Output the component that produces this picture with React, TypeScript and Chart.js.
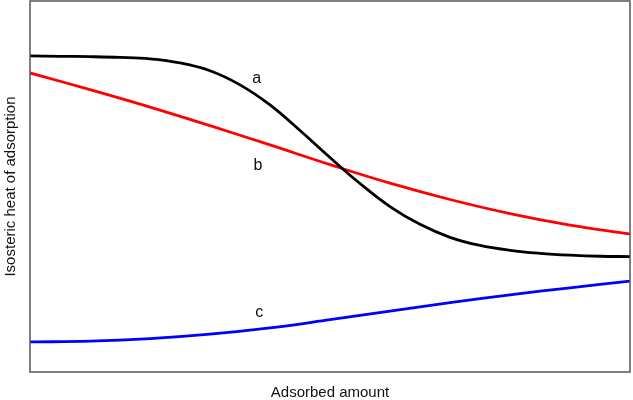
import React, { useEffect, useRef } from "react";
import { Chart, registerables } from "chart.js";

Chart.register(...registerables);

// Adsorbed amount (arbitrary units, 0..100)
const xA = [0, 5, 10, 15, 20, 25, 30, 35, 40, 45, 50, 55, 60, 65, 70, 75, 80, 85, 90, 95, 100];
const yA = [85.2, 85.1, 85.0, 84.8, 84.4, 83.3, 81.2, 77.4, 72.0, 65.1, 57.8, 50.8, 44.6, 39.8, 36.3, 34.1, 32.8, 32.0, 31.5, 31.2, 31.1];

const xB = [0, 10, 20, 30, 40, 50, 60, 70, 80, 90, 100];
const yB = [80.6, 76.1, 71.4, 66.4, 61.2, 55.9, 50.9, 46.5, 42.7, 39.6, 37.2];

const xC = [0, 10, 20, 30, 40, 50, 60, 70, 80, 90, 100];
const yC = [8.1, 8.3, 9.0, 10.2, 11.9, 14.1, 16.4, 18.7, 20.8, 22.7, 24.5];

const curveLabels = ["a", "b", "c"];
const labelX = [37.8, 38.0, 38.2];
const labelY = [79.0, 55.6, 16.1];

const xTitle = "Adsorbed amount";
const yTitle = "Isosteric heat of adsorption";

const FONT = "'Liberation Sans', Arial, sans-serif";

const toPts = (xs: number[], ys: number[]) => xs.map((x, i) => ({ x, y: ys[i] }));

export default function App() {
  const ref = useRef<HTMLCanvasElement | null>(null);
  useEffect(() => {
    if (!ref.current) return;
    const boxPlugin = {
      id: "boxAndLabels",
      afterDraw(chart: any) {
        const { ctx, chartArea } = chart;
        ctx.save();
        ctx.strokeStyle = "#555555";
        ctx.lineWidth = 1.5;
        ctx.strokeRect(chartArea.left, chartArea.top, chartArea.right - chartArea.left, chartArea.bottom - chartArea.top);
        ctx.fillStyle = "#111111";
        ctx.font = `16px ${FONT}`;
        ctx.textAlign = "center";
        ctx.textBaseline = "middle";
        const xs = chart.scales.x;
        const ys = chart.scales.y;
        curveLabels.forEach((t, i) => {
          ctx.fillText(t, xs.getPixelForValue(labelX[i]), ys.getPixelForValue(labelY[i]));
        });
        ctx.restore();
      },
    };
    const common = {
      pointRadius: 0,
      borderWidth: 2.8,
      fill: false,
      tension: 0.4,
    };
    const chart = new Chart(ref.current, {
      type: "line",
      data: {
        datasets: [
          { ...common, label: "a", data: toPts(xA, yA), borderColor: "#000000" },
          { ...common, label: "b", data: toPts(xB, yB), borderColor: "#ff0000" },
          { ...common, label: "c", data: toPts(xC, yC), borderColor: "#0000ff" },
        ],
      },
      options: {
        animation: false,
        responsive: false,
        layout: { padding: { top: 1, right: 3, left: 0, bottom: 0 } },
        plugins: { legend: { display: false }, tooltip: { enabled: false } },
        scales: {
          x: {
            type: "linear",
            min: 0,
            max: 100,
            ticks: { display: false },
            grid: { display: false },
            border: { display: false },
            title: {
              display: true,
              text: xTitle,
              color: "#111111",
              font: { family: FONT, size: 15, lineHeight: 1 },
              padding: { top: 0, bottom: 0 },
            },
            afterFit(scale: any) {
              scale.height = 28;
            },
          },
          y: {
            type: "linear",
            min: 0,
            max: 100,
            ticks: { display: false },
            grid: { display: false },
            border: { display: false },
            title: {
              display: true,
              text: yTitle,
              color: "#111111",
              font: { family: FONT, size: 15, lineHeight: 1 },
              padding: { top: 3, bottom: 0 },
            },
            afterFit(scale: any) {
              scale.width = 30;
            },
          },
        },
      },
      plugins: [boxPlugin],
    });
    return () => chart.destroy();
  }, []);
  return (
    <div style={{ position: "absolute", left: 0, top: 0, width: 633, height: 400, background: "#fff" }}>
      <canvas ref={ref} width={633} height={400} />
    </div>
  );
}
